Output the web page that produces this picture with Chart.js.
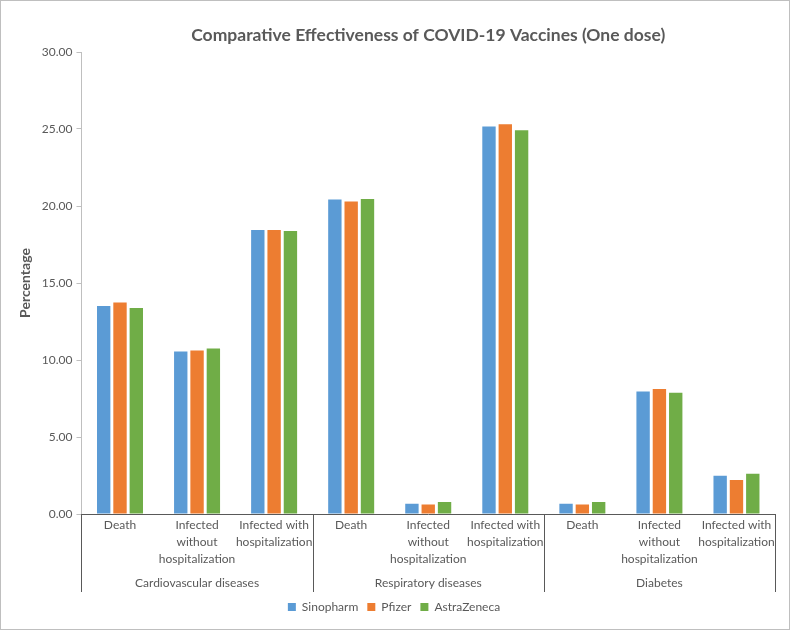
<!DOCTYPE html>
<html>
<head>
<meta charset="utf-8">
<script src="https://cdn.jsdelivr.net/npm/chart.js@4"></script>
<style>
  html, body { margin: 0; padding: 0; background: #fff; }
  #wrap { position: relative; width: 790px; height: 630px; box-sizing: border-box; border: 1px solid #bfbfbf; }
</style>
</head>
<body>
<div id="wrap"><canvas id="chart"></canvas></div>
<script>
'use strict';

// categories (two levels)
const groups = ['Cardiovascular diseases', 'Respiratory diseases', 'Diabetes'];
const outcomes = [
  ['Death'],
  ['Infected', 'without', 'hospitalization'],
  ['Infected with', 'hospitalization']
];
const labels = groups.flatMap(() => outcomes);

// series values (percentage)
const sinopharm   = [13.50, 10.55, 18.44, 20.42, 0.67, 25.16, 0.67, 7.96, 2.48];
const pfizer      = [13.74, 10.61, 18.44, 20.29, 0.61, 25.31, 0.61, 8.11, 2.20];
const astrazeneca = [13.37, 10.74, 18.37, 20.46, 0.78, 24.92, 0.78, 7.87, 2.61];

const TITLE = 'Comparative Effectiveness of COVID-19 Vaccines (One dose)';
const TEXT = '#595959';
const FONT = 'Lato, "Open Sans", sans-serif';
const TITLE_FONT = { family: FONT, size: 17.5, weight: 'bold' };

// group separators spanning both label rows, title centred over the plot
const extras = {
  id: 'extras',
  afterDraw(chart) {
    const x = chart.scales.x, x2 = chart.scales.x2;
    const ctx = chart.ctx;
    ctx.save();
    ctx.strokeStyle = TEXT;
    ctx.lineWidth = 1;
    for (let i = 0; i <= labels.length; i += outcomes.length) {
      const px = Math.round(x.getPixelForValue(i - 0.5)) + 0.5;
      ctx.beginPath();
      ctx.moveTo(px, x.top);
      ctx.lineTo(px, x2.bottom);
      ctx.stroke();
    }
    const tb = chart.titleBlock;
    const area = chart.chartArea;
    ctx.fillStyle = TEXT;
    ctx.font = `${TITLE_FONT.weight} ${TITLE_FONT.size}px ${TITLE_FONT.family}`;
    ctx.textAlign = 'center';
    ctx.textBaseline = 'middle';
    ctx.fillText(TITLE, (area.left + area.right) / 2, tb.top + (tb.bottom - tb.top - 7) / 2 + 1);
    ctx.restore();
  }
};

new Chart(document.getElementById('chart'), {
  type: 'bar',
  data: {
    labels: labels,
    datasets: [
      { label: 'Sinopharm',   data: sinopharm,   backgroundColor: '#5B9BD5' },
      { label: 'Pfizer',      data: pfizer,      backgroundColor: '#ED7D31' },
      { label: 'AstraZeneca', data: astrazeneca, backgroundColor: '#70AD47' }
    ]
  },
  options: {
    responsive: true,
    maintainAspectRatio: false,
    animation: false,
    categoryPercentage: 0.635,
    barPercentage: 0.82,
    layout: { padding: { left: 12, right: 14, top: 23, bottom: 6 } },
    plugins: {
      title: {
        display: true,
        text: TITLE,
        color: 'transparent',
        font: TITLE_FONT,
        padding: { top: 0, bottom: 7 }
      },
      legend: {
        position: 'bottom',
        labels: {
          color: TEXT, boxWidth: 8, boxHeight: 8, padding: 9,
          font: { family: FONT, size: 12 }
        }
      },
      tooltip: { enabled: false }
    },
    scales: {
      x: {
        grid: { display: false, drawTicks: false },
        border: { display: true, color: TEXT },
        ticks: {
          color: TEXT, maxRotation: 0, autoSkip: false, padding: 2,
          font: { family: FONT, size: 12, lineHeight: 1.45 }
        },
        afterFit: s => { s.height = 56; }
      },
      x2: {
        type: 'category',
        labels: groups,
        position: 'bottom',
        offset: true,
        grid: { display: false, drawTicks: false },
        border: { display: false },
        ticks: { color: TEXT, font: { family: FONT, size: 12 }, padding: 6, autoSkip: false },
        afterFit: s => { s.height = 22; }
      },
      y: {
        min: 0, max: 30,
        ticks: {
          stepSize: 5, color: TEXT, padding: 4,
          font: { family: FONT, size: 12 },
          callback: v => v.toFixed(2)
        },
        grid: { drawOnChartArea: false, color: '#bfbfbf', tickLength: 5 },
        border: { display: true, color: '#bfbfbf' },
        title: {
          display: true, text: 'Percentage', color: TEXT,
          font: { family: FONT, size: 14, weight: 'bold' }
        }
      }
    }
  },
  plugins: [extras]
});
</script>
</body>
</html>
